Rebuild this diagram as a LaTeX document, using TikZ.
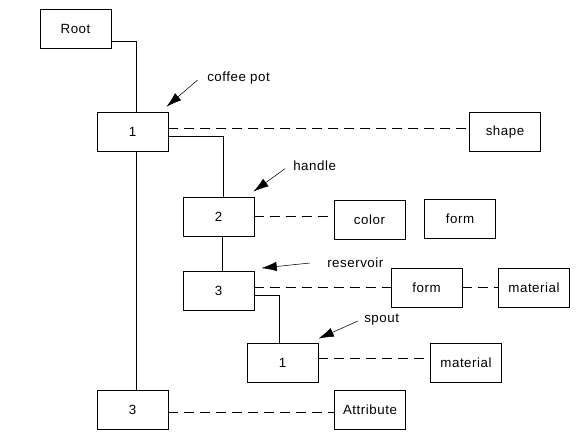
\documentclass[tikz,border=0pt]{standalone}
\usepackage{fontspec}
\setmainfont[LetterSpace=4]{Liberation Sans}
\usetikzlibrary{arrows.meta}
\begin{document}
\begin{tikzpicture}[x=0.75pt,y=0.75pt,yscale=-1,xscale=1,
    every node/.style={font=\fontsize{10}{12}\selectfont},
    box/.style={draw,minimum width=53.5pt,minimum height=29.5pt,inner sep=0pt},
    lbl/.style={inner sep=0pt,anchor=west},
    attrline/.style={dash pattern=on 7.5pt off 4.5pt},
    pointer/.style={-{Latex[length=11.5pt,width=7pt]}}]
			\useasboundingbox (0,0) rectangle (582,443);

			\node[box] (root) at (75.5,28.5) {Root};
			\node[box] (n1) at (132.5,132) {1};
			\node[box] (shape) at (505,132) {shape};
			\node[box] (n2) at (218.5,216.5) {2};
			\node[box] (color) at (369.5,219.5) {color};
			\node[box] (form1) at (460,218.5) {form};
			\node[box] (n3) at (218.5,291) {3};
			\node[box] (form2) at (426.5,287.5) {form};
			\node[box] (mat1) at (534,287.5) {material};
			\node[box] (n4) at (282.5,362.5) {1};
			\node[box] (mat2) at (466,362.5) {material};
			\node[box] (n5) at (132.5,410) {3};
			\node[box] (attr) at (370,410) {Attribute};

			\node[lbl] (potlbl) at (207,78) {coffee pot};
			\node[lbl] (handlelbl) at (293,166) {handle};
			\node[lbl] (reslbl) at (327,263) {reservoir};
			\node[lbl] (spoutlbl) at (364,320) {spout};

			\draw ([yshift=9.4pt]root.east) -| ([xshift=2.6pt]n1.north);
			\draw ([yshift=3pt]n1.east) -| ([xshift=3.4pt]n2.north);
			\draw ([xshift=2.6pt]n1.south) -- ([xshift=2.6pt]n5.north);
			\draw ([xshift=2.6pt]n2.south) -- ([xshift=2.6pt]n3.north);
			\draw ([yshift=3pt]n3.east) -| ([xshift=-2.6pt]n4.north);

			\draw[attrline] ([yshift=-3pt]n1.east) -- ([yshift=-3pt]shape.west);
			\draw[attrline] (n2.east) -- (n2.east -| color.west);
			\draw[attrline] (form2.west -| n3.east) -- (form2.west);
			\draw[attrline] (form2.east) -- (mat1.west);
			\draw[attrline] ([yshift=-3pt]n4.east) -- ([yshift=-3pt]mat2.west);
			\draw[attrline] ([yshift=2pt]n5.east) -- ([yshift=2pt]attr.west);

			\draw[pointer] ([xshift=-7pt,yshift=1.5pt]potlbl.west) -- ([xshift=-1.5pt,yshift=-4pt]n1.north east);
			\draw[pointer] ([xshift=-6pt,yshift=2pt]handlelbl.west) -- ([xshift=-0.75pt,yshift=-3.75pt]n2.north east);
			\draw[pointer] ([xshift=-12.75pt]reslbl.west) -- ([xshift=5.25pt,yshift=-2.25pt]n3.north east);
			\draw[pointer] ([xshift=-4.5pt,yshift=0.75pt]spoutlbl.west) -- ([yshift=-3pt]n4.north east);
			\end{tikzpicture}
\end{document}
